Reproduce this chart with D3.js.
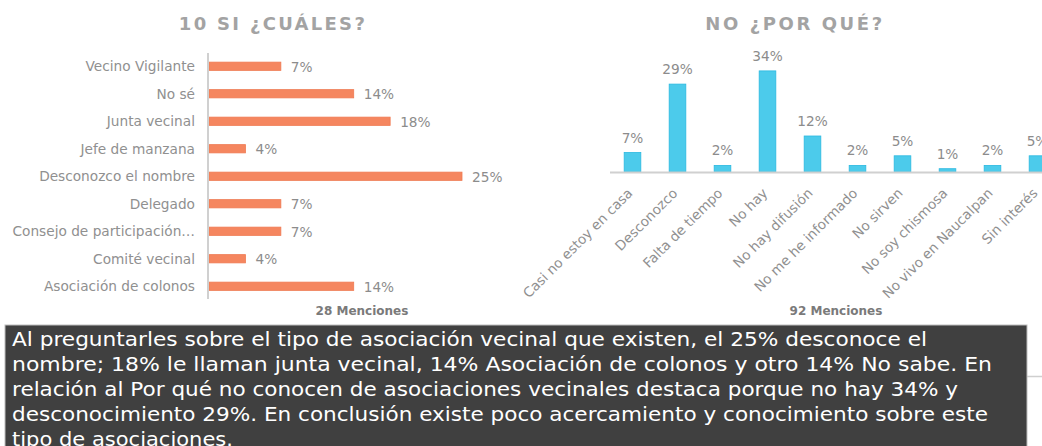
<!DOCTYPE html>
<html>
<head>
<meta charset="utf-8">
<script src="https://cdn.jsdelivr.net/npm/d3@7/dist/d3.min.js"></script>
<style>
  html, body { margin: 0; padding: 0; background: #ffffff; }
  svg { display: block; }
</style>
</head>
<body>
<svg id="chart" width="1042" height="446"></svg>
<script>
// ---- Data ----
const leftTitle = "10 SI ¿CUÁLES?";
const leftCategories = ["Vecino Vigilante", "No sé", "Junta vecinal", "Jefe de manzana", "Desconozco el nombre", "Delegado", "Consejo de participación…", "Comité vecinal", "Asociación de colonos"];
const leftValues = [7.1, 14.3, 17.9, 3.6, 25.0, 7.1, 7.1, 3.6, 14.3];
const leftFooter = "28 Menciones";

const rightTitle = "NO ¿POR QUÉ?";
const rightCategories = ["Casi no estoy en casa", "Desconozco", "Falta de tiempo", "No hay", "No hay difusión", "No me he informado", "No sirven", "No soy chismosa", "No vivo en Naucalpan", "Sin interés"];
const rightValues = [6.5, 29.3, 2.2, 33.7, 12.0, 2.2, 5.4, 1.1, 2.2, 5.4];
const rightFooter = "92 Menciones";

const summaryLines = [
  "Al preguntarles sobre el tipo de asociación vecinal que existen, el 25% desconoce el",
  "nombre; 18% le llaman junta vecinal, 14% Asociación de colonos y otro 14% No sabe. En",
  "relación al Por qué no conocen de asociaciones vecinales destaca porque no hay 34% y",
  "desconocimiento 29%. En conclusión existe poco acercamiento y conocimiento sobre este",
  "tipo de asociaciones."
];

// layout: rendered width of each summary line (px)
const summaryWidths = [915, 980, 946, 976, 221];

const fmt = v => Math.round(v) + "%";
const FONT = "'DejaVu Sans', Verdana, sans-serif";
const svg = d3.select("#chart");

// ---- Left chart: horizontal bars ----
const lx = d3.scaleLinear().domain([0, 25]).range([209, 462]);
const ly = d3.scaleBand().domain(leftCategories).range([52.5, 300]).paddingInner(0.7).paddingOuter(0.35);

svg.append("text")
  .attr("x", 273).attr("y", 30)
  .attr("text-anchor", "middle")
  .style("font-family", FONT).style("font-size", "18px").style("font-weight", "bold")
  .style("letter-spacing", "2.3px").style("fill", "#a3a3a3")
  .text(leftTitle);

const gl = svg.append("g");
gl.selectAll("rect").data(leftValues).join("rect")
  .attr("x", lx(0))
  .attr("y", (d, i) => ly(leftCategories[i]))
  .attr("width", d => lx(d) - lx(0))
  .attr("height", ly.bandwidth())
  .attr("fill", "#f5865f")
  .attr("stroke", "#ef7a52").attr("stroke-width", 0.8);

gl.selectAll("text.cat").data(leftCategories).join("text")
  .attr("class", "cat")
  .attr("x", 195)
  .attr("y", d => ly(d) + ly.bandwidth() / 2)
  .attr("dy", "0.36em")
  .attr("text-anchor", "end")
  .style("font-family", FONT).style("font-size", "13.7px").style("fill", "#909090")
  .text(d => d);

gl.selectAll("text.val").data(leftValues).join("text")
  .attr("class", "val")
  .attr("x", d => lx(d) + 10)
  .attr("y", (d, i) => ly(leftCategories[i]) + ly.bandwidth() / 2)
  .attr("dy", "0.4em")
  .style("font-family", FONT).style("font-size", "13.7px").style("fill", "#8c8c8c")
  .text(d => fmt(d));

gl.append("line")
  .attr("x1", 208).attr("x2", 208).attr("y1", 53).attr("y2", 299)
  .attr("stroke", "#d0d0d0").attr("stroke-width", 2);

svg.append("text")
  .attr("x", 362).attr("y", 315)
  .attr("text-anchor", "middle")
  .style("font-family", FONT).style("font-size", "12px").style("font-weight", "bold")
  .style("fill", "#7a7a7a")
  .text(leftFooter);

// ---- Right chart: vertical bars ----
const rx = d3.scaleBand().domain(rightCategories).range([610, 1060]).paddingInner(0.63).paddingOuter(0.315);
const ry = d3.scaleLinear().domain([0, 34]).range([172, 70]);

svg.append("text")
  .attr("x", 795).attr("y", 30)
  .attr("text-anchor", "middle")
  .style("font-family", FONT).style("font-size", "18px").style("font-weight", "bold")
  .style("letter-spacing", "2.6px").style("fill", "#a3a3a3")
  .text(rightTitle);

const gr = svg.append("g");
gr.selectAll("rect").data(rightValues).join("rect")
  .attr("x", (d, i) => rx(rightCategories[i]))
  .attr("y", d => ry(d))
  .attr("width", rx.bandwidth())
  .attr("height", d => ry(0) - ry(d))
  .attr("fill", "#4ccbeb")
  .attr("stroke", "#2bb8e0").attr("stroke-width", 0.8);

gr.selectAll("text.val").data(rightValues).join("text")
  .attr("class", "val")
  .attr("x", (d, i) => rx(rightCategories[i]) + rx.bandwidth() / 2)
  .attr("y", d => ry(d) - 10)
  .attr("text-anchor", "middle")
  .style("font-family", FONT).style("font-size", "13.7px").style("fill", "#8c8c8c")
  .text(d => fmt(d));

gr.append("line")
  .attr("x1", 610).attr("x2", 1042).attr("y1", 172.5).attr("y2", 172.5)
  .attr("stroke", "#d0d0d0").attr("stroke-width", 2);

gr.selectAll("text.cat").data(rightCategories).join("text")
  .attr("class", "cat")
  .attr("transform", d => `translate(${rx(d) + rx.bandwidth() / 2 + 1},194) rotate(-45)`)
  .attr("text-anchor", "end")
  .style("font-family", FONT).style("font-size", "13.6px").style("fill", "#909090")
  .text(d => d);

svg.append("text")
  .attr("x", 836).attr("y", 315)
  .attr("text-anchor", "middle")
  .style("font-family", FONT).style("font-size", "12px").style("font-weight", "bold")
  .style("fill", "#7a7a7a")
  .text(rightFooter);

// ---- Summary box ----
svg.append("line")
  .attr("x1", 1027).attr("x2", 1042).attr("y1", 376.5).attr("y2", 376.5)
  .attr("stroke", "#cfcfcf").attr("stroke-width", 1.5);

svg.append("rect")
  .attr("x", 5).attr("y", 325).attr("width", 1022).attr("height", 130)
  .attr("fill", "#404040")
  .attr("stroke", "#bdbdbd").attr("stroke-width", 1);

svg.append("g").selectAll("text").data(summaryLines).join("text")
  .attr("x", 12)
  .attr("y", (d, i) => 346 + i * 25)
  .attr("textLength", (d, i) => summaryWidths[i])
  .attr("lengthAdjust", "spacingAndGlyphs")
  .style("font-family", FONT).style("font-size", "20px").style("fill", "#ffffff")
  .text(d => d);
</script>
</body>
</html>
